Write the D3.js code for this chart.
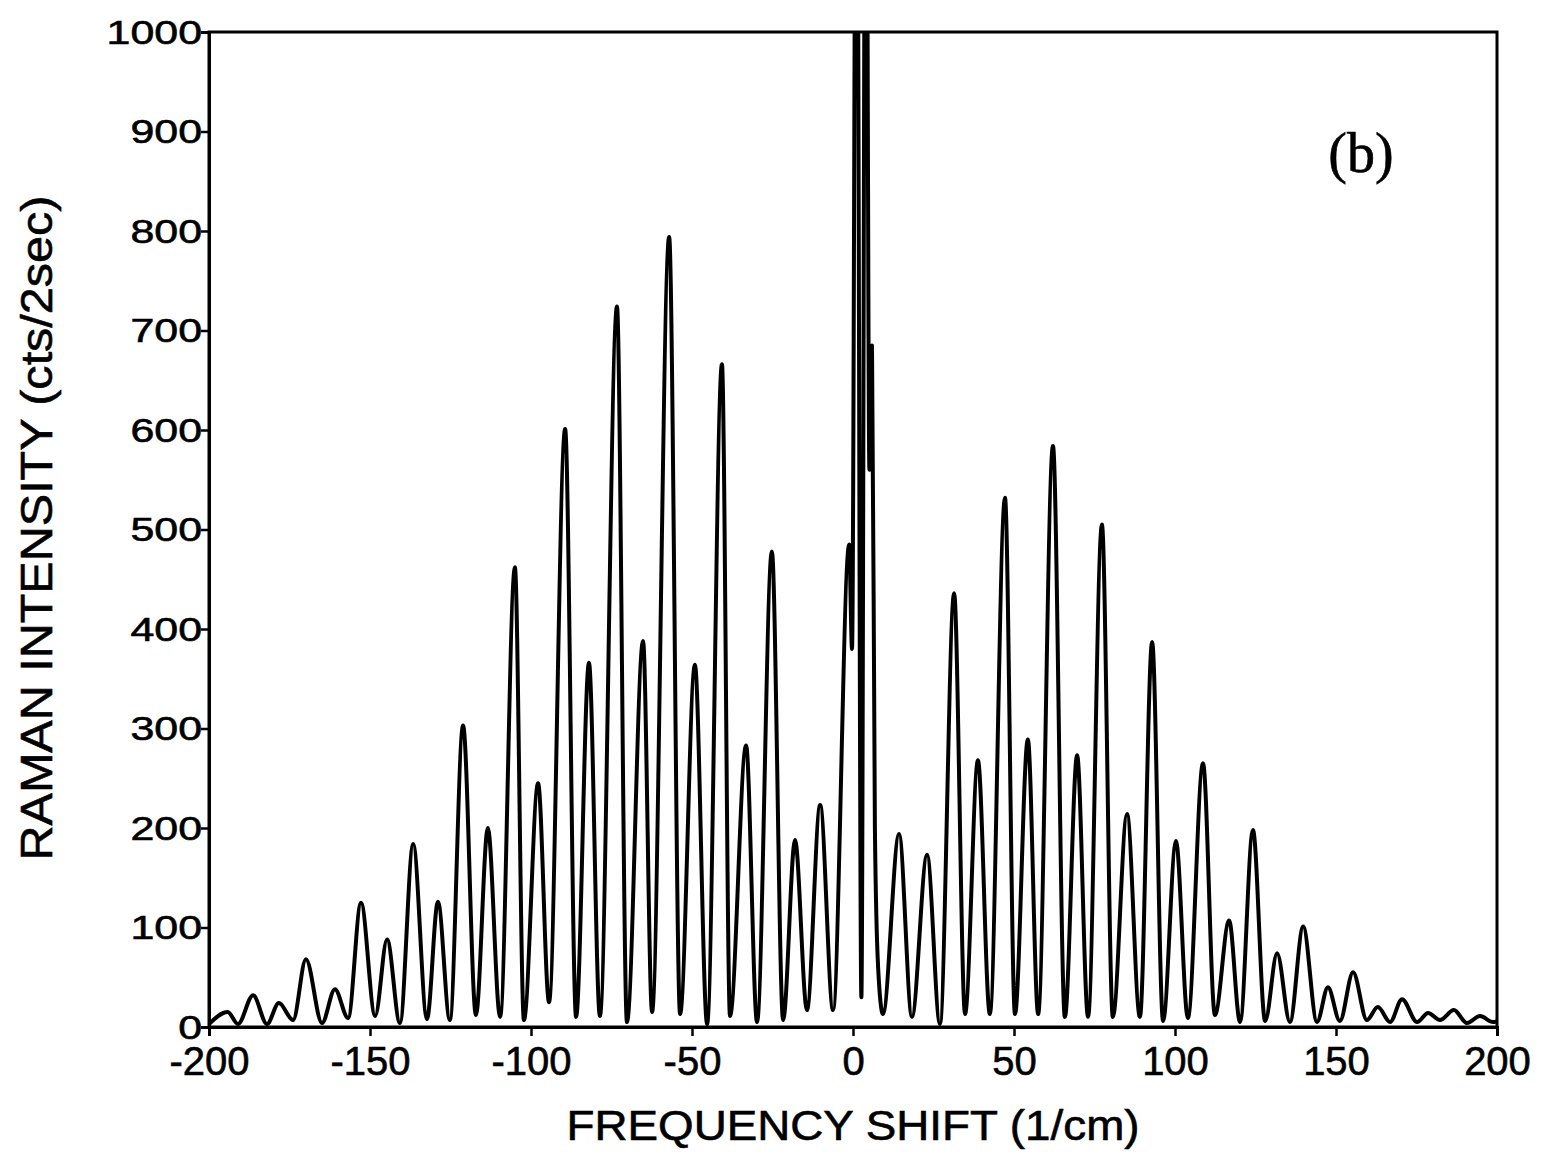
<!doctype html>
<meta charset="UTF-8">
<html>
  <head>
    <script src="https://d3js.org/d3.v7.min.js"></script>
    <style>
      body { margin: 0; background: #fff; }
      text { font-family: 'Liberation Sans', Arial, sans-serif; fill: #000; stroke: #000; stroke-width: 0.6px; }
    </style>
  </head>
  <body>
  <script type="text/javascript">

    // rotational lines (shift in 1/cm, counts per 2 sec)
    var peakShift = [-194.2, -186.3, -178.3, -169.9, -160.9, -152.8, -144.7, -136.6, -128.9, -121.1,
                     -113.4, -105.0, -97.8, -89.4, -82.0, -73.3, -65.2, -57.1, -49.1, -40.7,
                     -33.2, -25.2, -18.0, -10.2, -1.2,
                     14.3, 23.0, 31.4, 38.8, 47.2, 54.3, 62.1, 69.6, 77.3, 85.1,
                     92.9, 100.3, 108.7, 116.8, 124.2, 131.7, 139.8, 147.5, 155.3, 163.0,
                     170.5, 178.6, 186.6, 194.7]
    var peakCounts = [15, 32, 24, 68, 38, 125, 88, 184, 126, 303,
                      200, 462, 245, 601, 366, 724, 388, 794, 364, 666,
                      283, 478, 188, 223, 485,
                      194, 173, 436, 268, 532, 289, 584, 273, 505, 214,
                      387, 187, 265, 107, 198, 74, 101, 40, 55, 20,
                      28, 14, 17, 11]

    // minima between the lines
    var valleyShift = [-200, -191.0, -182.0, -173.9, -164.9, -156.8, -148.4, -140.7, -132.3, -125.2,
                       -117.1, -109.6, -102.2, -94.4, -86.0, -78.6, -70.2, -62.4, -53.7, -45.3,
                       -38.2, -29.8, -21.7, -14.3, -6.2,
                       9.3, 18.3, 27.0, 34.8, 42.5, 50.3, 57.5, 65.8, 73.0, 80.7,
                       89.1, 96.3, 104.0, 112.4, 120.2, 128.0, 135.7, 144.1, 151.2, 159.6,
                       166.8, 175.2, 182.3, 190.7, 198.8, 200]
    var valleyCounts = [3, 3, 3, 7, 4, 9, 11, 4, 8, 7,
                        12, 10, 7, 25, 10, 11, 5, 15, 13, 3,
                        11, 5, 7, 17, 17,
                        13, 10, 3, 13, 13, 13, 13, 10, 10, 10,
                        10, 6, 9, 12, 5, 6, 5, 5, 6, 7,
                        5, 5, 7, 4, 5, 6]

    // laser line region (goes off scale)
    var rayleighShift = [-0.3, 1.1, 2.6, 4.0, 5.1, 5.9, 6.8, 7.8]
    var rayleighCounts = [380, 1400, 30, 1400, 560, 685, 200, 60]

    var xTicks = [-200, -150, -100, -50, 0, 50, 100, 150, 200]
    var yTicks = [0, 100, 200, 300, 400, 500, 600, 700, 800, 900, 1000]

    width = 1549
    height = 1157
    var plotL = 209, plotR = 1497, plotT = 32, plotB = 1027

    svg = d3.select('body').append('svg')
      .attr('width', width)
      .attr('height', height)

    var x = d3.scaleLinear().domain([-200, 200]).range([plotL, plotR])
    var y = d3.scaleLinear().domain([0, 1000]).range([plotB, plotT])

    var pts = []
    peakShift.forEach((s, i) => pts.push([s, peakCounts[i]]))
    valleyShift.forEach((s, i) => pts.push([s, valleyCounts[i]]))
    rayleighShift.forEach((s, i) => pts.push([s, rayleighCounts[i]]))
    pts.sort((a, b) => a[0] - b[0])

    svg.append('defs').append('clipPath').attr('id', 'plot')
      .append('rect')
      .attr('x', plotL).attr('y', plotT)
      .attr('width', plotR - plotL).attr('height', plotB - plotT)

    var line = d3.line()
      .x(d => x(d[0]))
      .y(d => y(d[1]))
      .curve(d3.curveMonotoneX)

    svg.append('path')
      .datum(pts)
      .attr('clip-path', 'url(#plot)')
      .attr('fill', 'none')
      .attr('stroke', '#000')
      .attr('stroke-width', 4)
      .attr('stroke-linejoin', 'round')
      .attr('d', line)

    // frame
    svg.append('rect')
      .attr('x', plotL).attr('y', plotT)
      .attr('width', plotR - plotL).attr('height', plotB - plotT)
      .attr('fill', 'none')
      .attr('stroke', '#000')
      .attr('stroke-width', 3)

    var xAxis = svg.append('g')
      .attr('transform', 'translate(0,' + plotB + ')')
      .call(d3.axisBottom(x).tickValues(xTicks).tickSize(9).tickPadding(10).tickFormat(d => String(d)))
    xAxis.select('.domain').attr('stroke-width', 3)
    xAxis.selectAll('line').attr('stroke-width', 2.5)
    xAxis.selectAll('text')
      .style('font-size', '40px')
      .attr('dy', '0.72em')

    var yAxis = svg.append('g')
      .attr('transform', 'translate(' + plotL + ',0)')
      .call(d3.axisLeft(y).tickValues(yTicks).tickSize(8).tickFormat(d => String(d)))
    yAxis.select('.domain').attr('stroke-width', 3)
    yAxis.selectAll('line').attr('stroke-width', 2.5)
    yAxis.selectAll('text')
      .style('font-size', '33px')
      .attr('x', 0)
      .attr('dy', '0.34em')
      .attr('transform', 'translate(-7,0) scale(1.3,1)')

    svg.append('text')
      .text('FREQUENCY SHIFT (1/cm)')
      .style('font-size', '42px')
      .attr('text-anchor', 'middle')
      .attr('x', 853)
      .attr('y', 1140)
      .attr('textLength', 573)
      .attr('lengthAdjust', 'spacingAndGlyphs')

    svg.append('text')
      .text('RAMAN INTENSITY (cts/2sec)')
      .style('font-size', '44px')
      .attr('text-anchor', 'middle')
      .attr('textLength', 665)
      .attr('lengthAdjust', 'spacingAndGlyphs')
      .attr('transform', 'translate(52,528)rotate(-90)')

    svg.append('text')
      .text('(b)')
      .style('font-family', "'Liberation Serif', 'Times New Roman', serif")
      .style('font-size', '56px')
      .attr('text-anchor', 'middle')
      .attr('x', 1361)
      .attr('y', 172)

  </script>
  </body>
</html>
